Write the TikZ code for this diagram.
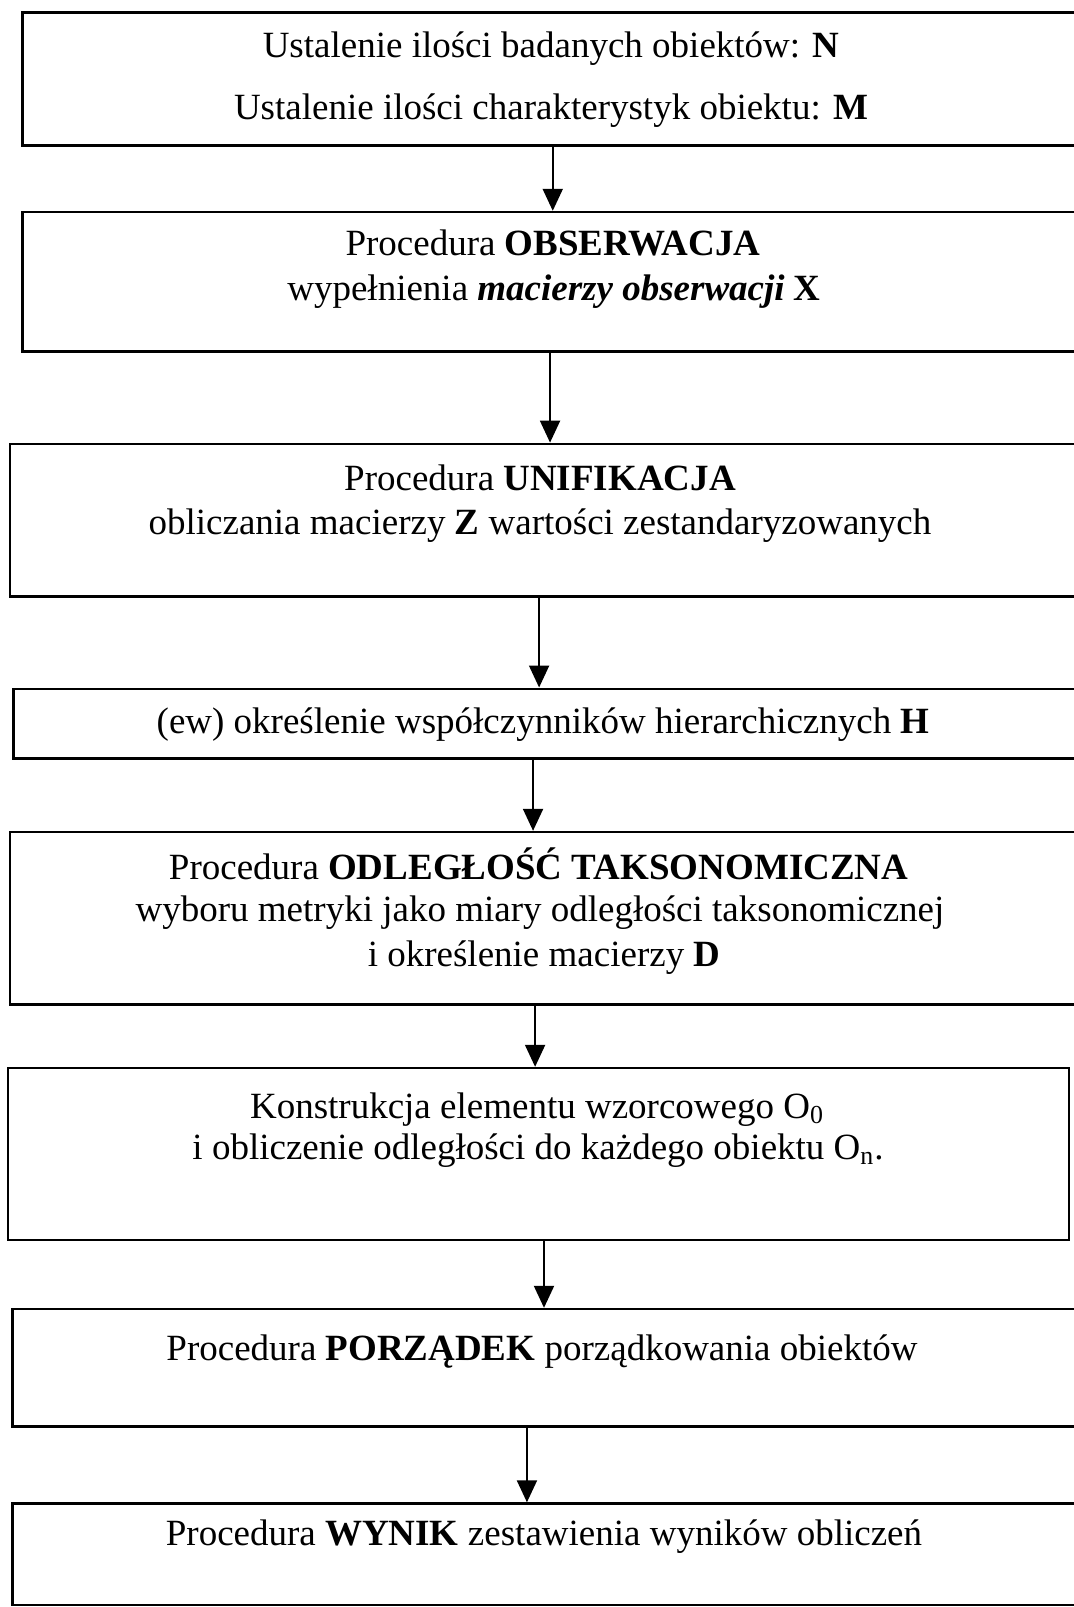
\documentclass[tikz,border=0pt]{standalone}
\usepackage{fontspec}
\setmainfont{Liberation Serif}
\usepackage{tikz}
\usetikzlibrary{arrows.meta,fit}

\begin{document}
\begin{tikzpicture}[
			x=0.5pt, y=-0.5pt, >={Triangle[length=11pt,width=10pt]},
			box/.style={draw, line width=1.2pt, inner sep=0pt},
			txt/.style={anchor=base, inner sep=0pt, font=\fontsize{18.5}{22}\selectfont},
			arr/.style={->, line width=1pt}
			]
			% ramka strony
			\useasboundingbox (0,0) rectangle (1073,1607);
			
			% bloki schematu (prawe krawedzie wychodza poza kadr)
			\node[box, fit={(22.5,12.3) (1080,145.5)}]   (b1) {};
			\node[box, fit={(22.5,212) (1080,351.5)}]    (b2) {};
			\node[box, fit={(10.2,443.8) (1080,596.5)}]  (b3) {};
			\node[box, fit={(13.3,688.7) (1080,758.4)}]  (b4) {};
			\node[box, fit={(10.2,832) (1080,1004.4)}]   (b5) {};
			\node[box, fit={(8.2,1068) (1069,1240)}]     (b6) {};
			\node[box, fit={(12.3,1309) (1080,1426.6)}]  (b7) {};
			\node[box, fit={(12.3,1503.5) (1080,1605)}]  (b8) {};
			
			% teksty
			\node[txt] (t1a) at (551,57)  {Ustalenie ilości badanych obiektów: \textbf{N}};
			\node[txt] (t1b) at (551,119) {Ustalenie ilości charakterystyk obiektu: \textbf{M}};
			
			\node[txt] (t2a) at (553,255) {Procedura \textbf{OBSERWACJA}};
			\node[txt] (t2b) at (554,300) {wypełnienia \textbf{\textit{macierzy obserwacji}} \textbf{X}};
			
			\node[txt] (t3a) at (540,490) {Procedura \textbf{UNIFIKACJA}};
			\node[txt] (t3b) at (540,534) {obliczania macierzy \textbf{Z} wartości zestandaryzowanych};
			
			\node[txt] (t4) at (543,733.5) {(ew) określenie współczynników hierarchicznych \textbf{H}};
			
			\node[txt] (t5a) at (538.6,879) {Procedura \textbf{ODLEGŁOŚĆ TAKSONOMICZNA}};
			\node[txt] (t5b) at (540,921)   {wyboru metryki jako miary odległości taksonomicznej};
			\node[txt] (t5c) at (544,966)   {i określenie macierzy \textbf{D}};
			
			\node[txt] (t6a) at (537,1118) {Konstrukcja elementu wzorcowego O\textsubscript{0}};
			\node[txt] (t6b) at (538,1159) {i obliczenie odległości do każdego obiektu O\textsubscript{n}.};
			
			\node[txt] (t7) at (542,1360) {Procedura \textbf{PORZĄDEK} porządkowania obiektów};
			
			\node[txt] (t8) at (544,1545) {Procedura \textbf{WYNIK} zestawienia wyników obliczeń};
			
			% strzalki
			\draw[arr] ([xshift=0.75pt]b1.south) -- ([xshift=0.75pt]b1.south |- b2.north);
			\draw[arr] ([xshift=-0.6pt]b2.south) -- ([xshift=-0.6pt]b2.south |- b3.north);
			\draw[arr] ([xshift=-3pt]b3.south) -- ([xshift=-3pt]b3.south |- b4.north);
			\draw[arr] ([xshift=-6.8pt]b4.south) -- ([xshift=-6.8pt]b4.south |- b5.north);
			\draw[arr] ([xshift=-5pt]b5.south) -- ([xshift=-5pt]b5.south |- b6.north);
			\draw[arr] ([xshift=2.7pt]b6.south) -- ([xshift=2.7pt]b6.south |- b7.north);
			\draw[arr] ([xshift=-9.6pt]b7.south) -- ([xshift=-9.6pt]b7.south |- b8.north);
			
		\end{tikzpicture}
\end{document}
